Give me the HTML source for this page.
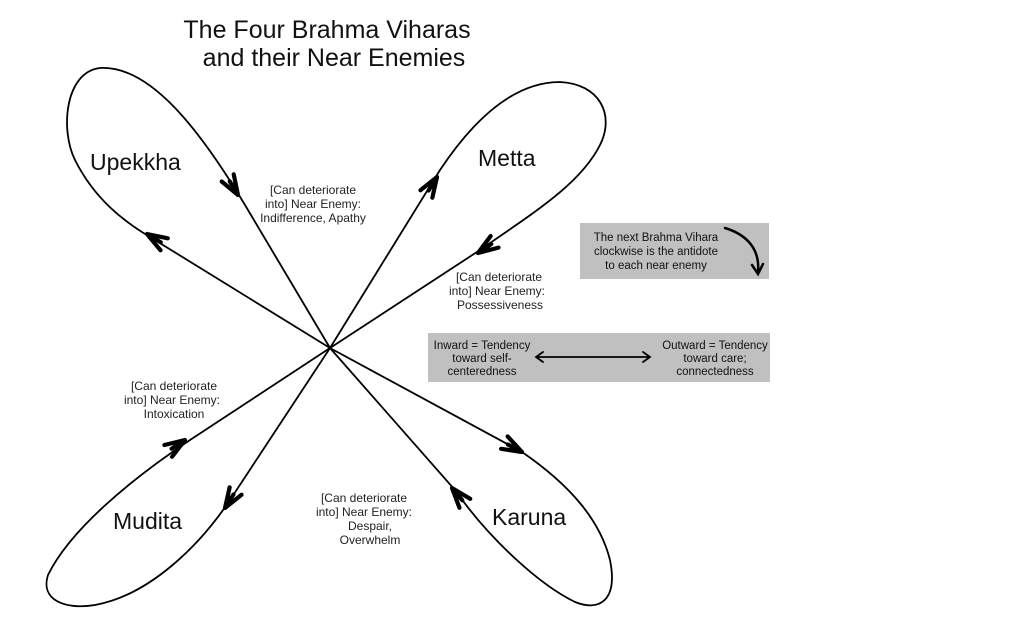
<!DOCTYPE html>
<html><head><meta charset="utf-8"><style>
html,body{margin:0;padding:0;background:#fff;}
svg{display:block;font-family:"Liberation Sans",sans-serif;}
</style></head><body>
<svg width="1024" height="625" viewBox="0 0 1024 625" xmlns="http://www.w3.org/2000/svg">
<defs>
<g id="ah"><path d="M0,0 L-20,-7 M0,0 L-20,7 M0,0 L-16,0" stroke="#000" stroke-width="4.2" stroke-linecap="round" fill="none"/></g>
</defs>
<rect width="1024" height="625" fill="#fff"/>
<text x="327" y="38" font-size="25" text-anchor="middle" fill="#111">The Four Brahma Viharas</text>
<text x="334" y="66" font-size="25" text-anchor="middle" fill="#111">and their Near Enemies</text>
<g fill="none" stroke="#000" stroke-width="1.8">
<path d="M330,348 L245,205 C200,130 150,65 100,68 C65,72 60,130 75,160 C95,200 125,222 150,237 L330,348"/>
<path d="M330,348 L440,170 C480,110 520,82 560,82 C600,84 615,115 600,145 C580,185 530,215 480,250 L330,348"/>
<path d="M330,348 L522,452 C570,485 600,520 610,560 C618,600 600,612 575,602 C540,585 490,540 455,490 L330,348"/>
<path d="M330,348 L190,440 C130,480 70,530 48,575 C40,600 65,610 95,605 C150,595 200,545 230,500 L330,348"/>
</g>
<use href="#ah" transform="translate(238,195) rotate(59)"/>
<use href="#ah" transform="translate(147,234) rotate(211)"/>
<use href="#ah" transform="translate(437,177) rotate(-58)"/>
<use href="#ah" transform="translate(478,253) rotate(146)"/>
<use href="#ah" transform="translate(522,452) rotate(28)"/>
<use href="#ah" transform="translate(452,488) rotate(230)"/>
<use href="#ah" transform="translate(185,440) rotate(-33)"/>
<use href="#ah" transform="translate(225,508) rotate(122)"/>
<g font-size="23" fill="#111">
<text x="90" y="170">Upekkha</text>
<text x="478" y="166">Metta</text>
<text x="113" y="529">Mudita</text>
<text x="492" y="525">Karuna</text>
</g>
<g font-size="12" fill="#222" text-anchor="middle">
<text x="313" y="194">[Can deteriorate</text>
<text x="313" y="208">into] Near Enemy:</text>
<text x="313" y="222">Indifference, Apathy</text>
<text x="499" y="281">[Can deteriorate</text>
<text x="497" y="295">into] Near Enemy:</text>
<text x="500" y="309">Possessiveness</text>
<text x="174" y="390">[Can deteriorate</text>
<text x="172" y="404">into] Near Enemy:</text>
<text x="174" y="418">Intoxication</text>
<text x="364" y="502">[Can deteriorate</text>
<text x="364" y="516">into] Near Enemy:</text>
<text x="370" y="530">Despair,</text>
<text x="370" y="544">Overwhelm</text>
</g>
<rect x="580" y="223" width="189" height="56" fill="#c0c0c0"/>
<g font-size="11.5" fill="#111" text-anchor="middle">
<text x="656" y="241">The next Brahma Vihara</text>
<text x="656" y="255">clockwise is the antidote</text>
<text x="656" y="269">to each near enemy</text>
</g>
<path d="M725,228 C748,235 760,250 758,272" fill="none" stroke="#000" stroke-width="2.5" stroke-linecap="round"/>
<path d="M752,265 L758,274 L763,264" fill="none" stroke="#000" stroke-width="2.5" stroke-linecap="round"/>
<rect x="428" y="333" width="342" height="49" fill="#c0c0c0"/>
<g font-size="11.5" fill="#111" text-anchor="middle">
<text x="482" y="349">Inward = Tendency</text>
<text x="482" y="362">toward self-</text>
<text x="482" y="375">centeredness</text>
<text x="715" y="349">Outward = Tendency</text>
<text x="715" y="362">toward care;</text>
<text x="715" y="375">connectedness</text>
</g>
<path d="M536,357 L650,357 M543,352 L536,357 L543,362 M643,352 L650,357 L643,362" fill="none" stroke="#000" stroke-width="1.8" stroke-linecap="round"/>
</svg>
</body></html>
